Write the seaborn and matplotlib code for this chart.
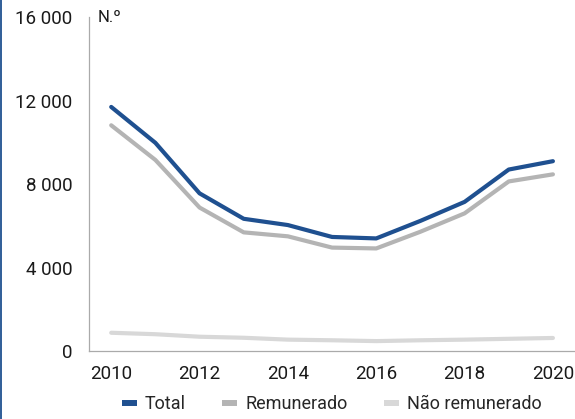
import matplotlib.pyplot as plt
import numpy as np
import pandas as pd
import seaborn as sns
from matplotlib.lines import Line2D
from matplotlib.ticker import FixedLocator, FuncFormatter


YEARS = list(range(2010, 2021))
TOTAL = [11700, 9980, 7560, 6340, 6040, 5470, 5400, 6240, 7150, 8700, 9100]
REMUNERADO = [10820, 9160, 6880, 5690, 5500, 4960, 4920, 5720, 6600, 8130, 8470]
NAO_REMUNERADO = [880, 810, 690, 640, 550, 520, 480, 520, 550, 590, 630]

SERIES_NAMES = ["Total", "Remunerado", "Não remunerado"]
SERIES_COLORS = ["#1f5090", "#b4b4b4", "#d8d8d8"]
Y_TICKS = [0, 4000, 8000, 12000, 16000]
X_LABEL_YEARS = [2010, 2012, 2014, 2016, 2018, 2020]


def build_long_table() -> pd.DataFrame:
    frames = []
    for name, values in zip(SERIES_NAMES, [TOTAL, REMUNERADO, NAO_REMUNERADO]):
        frames.append(pd.DataFrame({"ano": YEARS, "valor": values, "serie": name}))
    return pd.concat(frames, ignore_index=True)


def thousands(value, _pos):
    return f"{int(value):,}".replace(",", " ")


data = build_long_table()

sns.set_style("white")
plt.rcParams["font.family"] = ["Roboto", "DejaVu Sans"]

fig = plt.figure(figsize=(5.75, 4.19), dpi=100)
ax = fig.add_axes([0.155, 0.162, 0.845, 0.797])

# draw the light series first so the blue one sits on top
sns.lineplot(
    data=data,
    x="ano",
    y="valor",
    hue="serie",
    hue_order=SERIES_NAMES[::-1],
    palette=SERIES_COLORS[::-1],
    linewidth=3.0,
    legend=False,
    ax=ax,
)

ax.set_xlim(YEARS[0] - 0.5, YEARS[-1] + 0.5)
ax.set_ylim(0, 16000)
ax.set_xlabel("")
ax.set_ylabel("")

ax.yaxis.set_major_locator(FixedLocator(Y_TICKS))
ax.yaxis.set_major_formatter(FuncFormatter(thousands))
ax.xaxis.set_major_locator(FixedLocator(X_LABEL_YEARS))
ax.xaxis.set_minor_locator(FixedLocator(np.arange(YEARS[0] - 0.5, YEARS[-1] + 1, 1.0)))

ax.tick_params(axis="y", length=0, labelsize=13.5, pad=12, colors="#1a1a1a")
ax.tick_params(axis="x", which="major", length=0, labelsize=13.5, pad=10, colors="#1a1a1a")
ax.tick_params(axis="x", which="minor", length=5, width=0.8, color="#999999", direction="out")

for side in ["top", "right"]:
    ax.spines[side].set_visible(False)
for side in ["left", "bottom"]:
    ax.spines[side].set_color("#aaaaaa")
    ax.spines[side].set_linewidth(0.9)

ax.text(0.018, 1.0, "N.º", transform=ax.transAxes, fontsize=12, va="center", ha="left", color="#1a1a1a")

handles = [
    Line2D([0], [0], color=color, linewidth=4.3, solid_capstyle="butt")
    for color in SERIES_COLORS
]
fig.legend(
    handles,
    SERIES_NAMES,
    loc="center",
    bbox_to_anchor=(0.577, 0.035),
    ncol=3,
    frameon=False,
    fontsize=13,
    handlelength=0.85,
    handletextpad=0.45,
    columnspacing=2.0,
    borderaxespad=0,
    borderpad=0,
)

# dark blue rule on the left edge of the figure
fig.add_artist(Line2D([0.002, 0.002], [0, 1], transform=fig.transFigure, color="#1f5090", linewidth=1.3))

fig.savefig("out.png", dpi=100)
